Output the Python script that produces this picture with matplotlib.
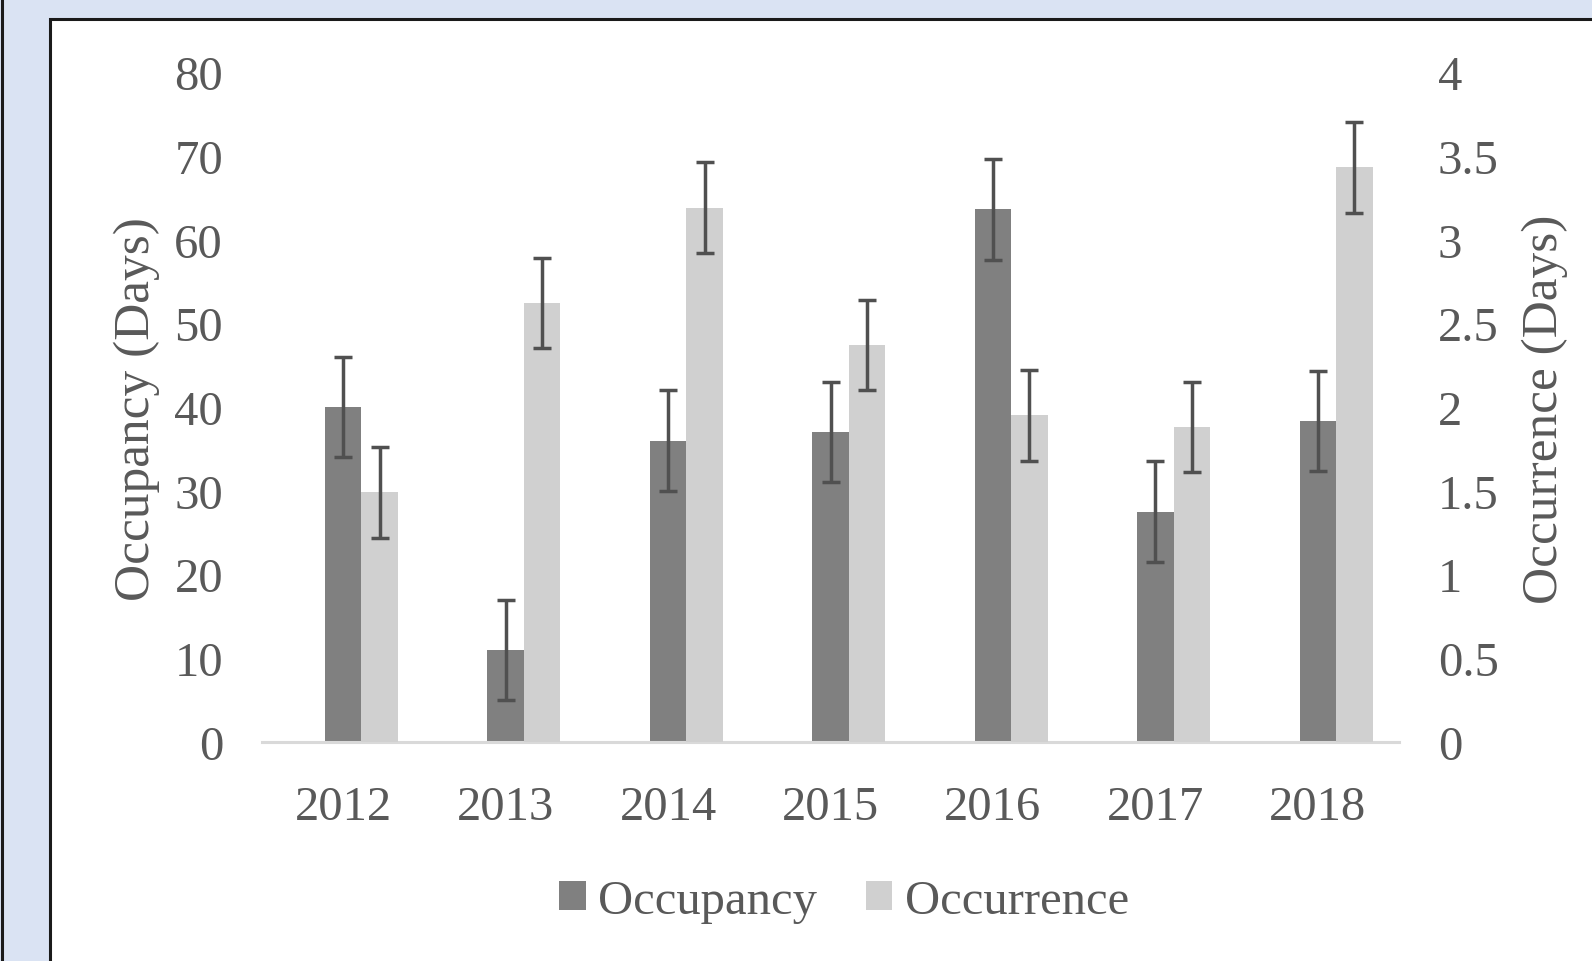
import numpy as np
import matplotlib
matplotlib.use('Agg')
import matplotlib.pyplot as plt
from matplotlib.patches import Rectangle
from matplotlib.lines import Line2D

plt.rcParams['font.family'] = ['Liberation Serif', 'DejaVu Serif']

# data
years = ['2012', '2013', '2014', '2015', '2016', '2017', '2018']
occupancy = [40, 11, 36, 37, 63.6, 27.5, 38.3]
occupancy_err = [6, 6, 6, 6, 6, 6, 6]
occurrence = [1.49, 2.62, 3.19, 2.37, 1.95, 1.88, 3.43]
occurrence_err = [0.27, 0.27, 0.27, 0.27, 0.27, 0.27, 0.27]

dark = '#808080'
light = '#D0D0D0'
txt = '#595959'
errc = '#505050'

W, H = 1592, 962
fig = plt.figure(figsize=(W / 100, H / 100), dpi=100)
fig.patch.set_facecolor('#DAE3F3')

# white panel with dark frame, plus outer left edge
fig.patches.append(Rectangle((50 / W, -0.1), 1.2, 1 - 20 / H + 0.1, transform=fig.transFigure,
                             facecolor='white', edgecolor='#1a1a1a', linewidth=2.2, zorder=-10))
fig.lines.append(Line2D([2 / W, 2 / W], [0, 1], transform=fig.transFigure, color='#1a1a1a',
                        lw=2.2, zorder=-10))

ax = fig.add_axes([262 / W, 1 - 743 / H, (1399 - 262) / W, (743 - 73) / H])
ax.set_facecolor('none')
ax2 = ax.twinx()

x = np.arange(len(years))
bw = 0.225

ax.bar(x, occupancy, bw, color=dark, label='Occupancy', zorder=2)
ax.errorbar(x, occupancy, yerr=occupancy_err, fmt='none', ecolor=errc, elinewidth=2.5,
            capsize=6.5, capthick=2.5, zorder=3)
ax2.bar(x + bw, occurrence, bw, color=light, label='Occurrence', zorder=2)
ax2.errorbar(x + bw, occurrence, yerr=occurrence_err, fmt='none', ecolor=errc, elinewidth=2.5,
             capsize=6.5, capthick=2.5, zorder=3)

ax.set_xlim(-0.5, 6.5)
ax.set_ylim(0, 80)
ax2.set_ylim(0, 4)
ax.set_yticks(range(0, 81, 10))
ax2.set_yticks([0, 0.5, 1, 1.5, 2, 2.5, 3, 3.5, 4])
ax2.set_yticklabels(['0', '0.5', '1', '1.5', '2', '2.5', '3', '3.5', '4'])
ax.set_xticks(x)
ax.set_xticklabels(years)

for a in (ax, ax2):
    for s in a.spines.values():
        s.set_visible(False)
ax.spines['bottom'].set_visible(True)
ax.spines['bottom'].set_color('#D9D9D9')
ax.spines['bottom'].set_linewidth(2.2)

ax.tick_params(axis='y', length=0, pad=28, labelsize=35, labelcolor=txt)
ax.tick_params(axis='x', length=0, pad=31, labelsize=35, labelcolor=txt)
ax2.tick_params(axis='y', length=0, pad=28, labelsize=35, labelcolor=txt)

fig.text(137 / W, 1 - 409 / H, 'Occupancy (Days)', rotation=90, ha='center', va='center',
         fontsize=37, color=txt)
fig.text(1545 / W, 1 - 409 / H, 'Occurrence (Days)', rotation=90, ha='center', va='center',
         fontsize=37, color=txt)

h1, l1 = ax.get_legend_handles_labels()
h2, l2 = ax2.get_legend_handles_labels()
leg = fig.legend(h1 + h2, l1 + l2, loc='center', bbox_to_anchor=(844 / W, 1 - 902 / H), ncol=2,
                 frameon=False, fontsize=35, handlelength=0.55, handleheight=0.55,
                 handletextpad=0.25, columnspacing=1.0, borderpad=0)
for t in leg.get_texts():
    t.set_color(txt)

fig.savefig('out.png', dpi=100, facecolor=fig.get_facecolor())
